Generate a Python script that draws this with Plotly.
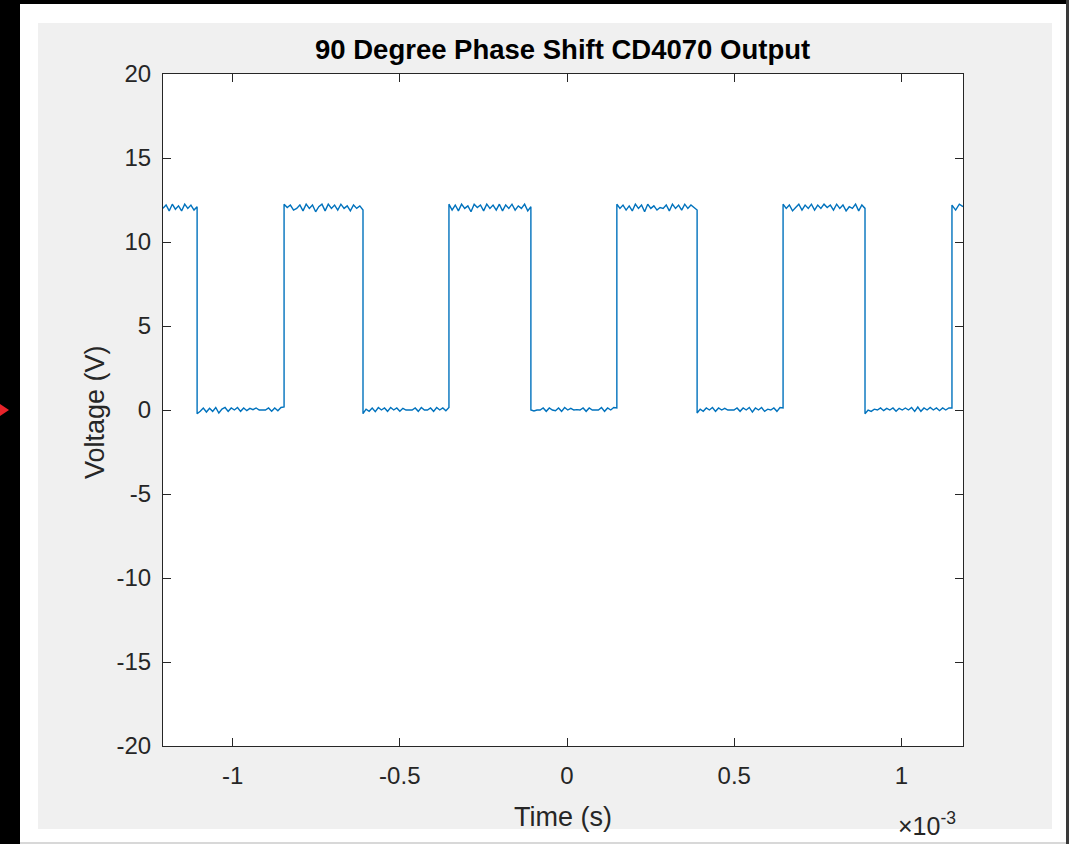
import numpy as np
import plotly.graph_objects as go

# ---- waveform data (time in ms, voltage in V) ----
# switching instants of the XOR output
edge_times_ms = [-1.208, -1.106, -0.846, -0.610, -0.353, -0.108,
                 0.149, 0.389, 0.646, 0.891, 1.151, 1.184]

# sampled voltage on each flat segment between consecutive edges
seg_0 = [12.0, 12.2, 11.85, 12.25, 11.95, 12.15, 11.85, 12.25, 12.0, 12.2, 11.9, 12.1]
seg_1 = [-0.22, -0.08, 0.12, -0.12, 0.1, -0.08, 0.15, -0.18, 0.05, 0.15, -0.08, 0.12, 0.0, 0.15,
         -0.08, 0.12, -0.04, 0.1, 0.02, 0.12, 0.0, 0.02, 0.0, 0.12, -0.08, 0.12, -0.04, 0.15, 0.18]
seg_2 = [12.25, 12.05, 12.2, 11.9, 12.0, 12.2, 11.85, 12.25, 12.0, 12.2, 11.8, 12.1, 12.25,
         11.85, 12.25, 12.0, 12.2, 11.9, 12.25, 12.0, 12.15, 11.85, 12.2, 12.0, 12.15, 11.9]
seg_3 = [-0.22, 0.05, -0.08, 0.12, -0.1, 0.15, 0.0, 0.12, -0.08, 0.15, 0.0, 0.12, -0.08, 0.1,
         0.0, 0.02, 0.0, 0.12, -0.08, 0.15, 0.0, 0.0, 0.12, -0.08, 0.15, 0.0, 0.12, -0.04, 0.15]
seg_4 = [12.25, 11.9, 12.2, 11.85, 12.25, 12.0, 12.15, 11.8, 12.25, 12.05, 12.2, 11.85, 12.25,
         12.0, 12.2, 11.9, 12.25, 11.85, 12.2, 12.0, 12.25, 11.9, 12.15, 12.0, 12.25, 11.85, 12.1]
seg_5 = [0.0, -0.06, 0.0, 0.0, 0.12, -0.08, 0.12, 0.0, -0.04, 0.12, -0.08, 0.15, 0.0, 0.1,
         0.0, 0.02, 0.0, 0.12, -0.08, 0.12, 0.0, 0.0, 0.0, 0.15, -0.08, 0.12, 0.0, 0.15, 0.12]
seg_6 = [12.25, 12.0, 12.2, 11.9, 12.15, 11.85, 12.25, 12.0, 12.2, 11.8, 12.25, 12.0, 12.15,
         11.9, 12.05, 12.0, 12.2, 11.85, 12.25, 12.0, 12.2, 11.9, 12.25, 12.0, 12.2, 12.05, 11.9]
seg_7 = [-0.18, 0.05, -0.08, 0.12, 0.0, 0.15, -0.08, 0.12, 0.0, 0.1, 0.0, 0.0, 0.0, 0.12,
         -0.08, 0.12, 0.0, 0.15, -0.12, 0.12, 0.0, 0.15, -0.08, 0.05, 0.0, 0.12, -0.08, 0.15, 0.12]
seg_8 = [12.25, 12.0, 12.2, 11.85, 12.05, 12.25, 11.9, 12.2, 12.0, 12.25, 11.9, 12.2, 12.0,
         12.25, 12.05, 12.2, 11.9, 12.25, 12.0, 12.2, 11.85, 12.1, 12.0, 12.25, 11.85, 12.2, 12.0]
seg_9 = [-0.22, 0.0, -0.08, 0.05, 0.0, 0.12, -0.04, 0.1, 0.0, 0.12, -0.08, 0.1, 0.0, 0.12,
         0.0, 0.15, -0.08, 0.18, -0.08, 0.12, 0.0, 0.15, 0.0, 0.12, -0.04, 0.12, 0.0, 0.12, 0.12]
seg_10 = [12.2, 11.9, 12.25, 12.1]

segments = [seg_0, seg_1, seg_2, seg_3, seg_4, seg_5, seg_6, seg_7, seg_8, seg_9, seg_10]

x_tick_vals_ms = [-1, -0.5, 0, 0.5, 1]
x_tick_text = ["-1", "-0.5", "0", "0.5", "1"]
y_tick_vals = [-20, -15, -10, -5, 0, 5, 10, 15, 20]
y_tick_text = ["-20", "-15", "-10", "-5", "0", "5", "10", "15", "20"]

# build the sampled trace: samples spread evenly over each segment
t_s, v = [], []
for i, seg in enumerate(segments):
    t0, t1 = edge_times_ms[i], edge_times_ms[i + 1]
    t_s.extend((np.linspace(t0, t1, len(seg)) * 1e-3).tolist())
    v.extend(seg)

# ---- page geometry ----
W, H = 1074, 844
L, R, T, B = 163, 963, 74, 746


def fx(px):
    return (px - L) / (R - L)


def fy(py):
    return (B - py) / (B - T)


def rect(x0, y0, x1, y1, color):
    return dict(type="rect", xref="paper", yref="paper",
                x0=fx(x0), x1=fx(x1), y0=fy(y1), y1=fy(y0),
                fillcolor=color, line=dict(width=0), layer="above")


ink = "#262626"
fig = go.Figure()
fig.add_trace(go.Scatter(x=t_s, y=v, mode="lines",
                         line=dict(color="#0072BD", width=1.4),
                         showlegend=False, hoverinfo="skip"))

shapes = [
    rect(0, 0, 20, H, "#000000"),
    rect(0, 0, W, 4, "#000000"),
    rect(20, 4, 38, 842, "#ffffff"),
    rect(20, 4, 1066, 23, "#ffffff"),
    rect(1052, 4, 1066, 842, "#ffffff"),
    rect(20, 829, 1066, 842, "#ffffff"),
    rect(20, 842, 1066, H, "#d8d8d8"),
    rect(1066, 0, 1069, H, "#3a3a3a"),
    rect(1069, 0, W, H, "#ffffff"),
    dict(type="path", xref="paper", yref="paper",
         path=f"M {fx(0)} {fy(404)} L {fx(9)} {fy(410)} L {fx(0)} {fy(416)} Z",
         fillcolor="#e8232a", line=dict(width=0), layer="above"),
]

font_main = "Liberation Sans, Arial, Helvetica, sans-serif"
annotations = [
    dict(text="<b>90 Degree Phase Shift CD4070 Output</b>", xref="paper", yref="paper",
         x=fx(562), y=fy(50), xanchor="center", yanchor="middle", showarrow=False,
         font=dict(family=font_main, size=27.5, color="#000000")),
    dict(text="Time (s)", xref="paper", yref="paper",
         x=fx(563), y=fy(817), xanchor="center", yanchor="middle", showarrow=False,
         font=dict(family=font_main, size=27, color=ink)),
    dict(text="Voltage (V)", xref="paper", yref="paper", textangle=-90,
         x=fx(95), y=fy(412), xanchor="center", yanchor="middle", showarrow=False,
         font=dict(family=font_main, size=27, color=ink)),
    dict(text="×10<sup>-3</sup>", xref="paper", yref="paper",
         x=fx(896), y=fy(824), xanchor="left", yanchor="middle", showarrow=False,
         font=dict(family=font_main, size=25, color=ink)),
]

axis_common = dict(showline=True, linecolor=ink, linewidth=1, mirror="ticks",
                   ticks="inside", ticklen=8, tickcolor=ink, tickwidth=1,
                   showgrid=False, zeroline=False,
                   tickfont=dict(family=font_main, size=24, color=ink))

fig.update_layout(
    width=W, height=H,
    margin=dict(l=L, r=W - R, t=T, b=H - B, pad=0),
    paper_bgcolor="#f0f0f0", plot_bgcolor="#ffffff",
    xaxis=dict(range=[edge_times_ms[0] * 1e-3, edge_times_ms[-1] * 1e-3],
               tickvals=[t * 1e-3 for t in x_tick_vals_ms], ticktext=x_tick_text,
               ticklabelstandoff=8, **axis_common),
    yaxis=dict(range=[-20, 20], tickvals=y_tick_vals, ticktext=y_tick_text,
               ticklabelstandoff=6, **axis_common),
    shapes=shapes, annotations=annotations,
)

fig.write_html("out.html")
